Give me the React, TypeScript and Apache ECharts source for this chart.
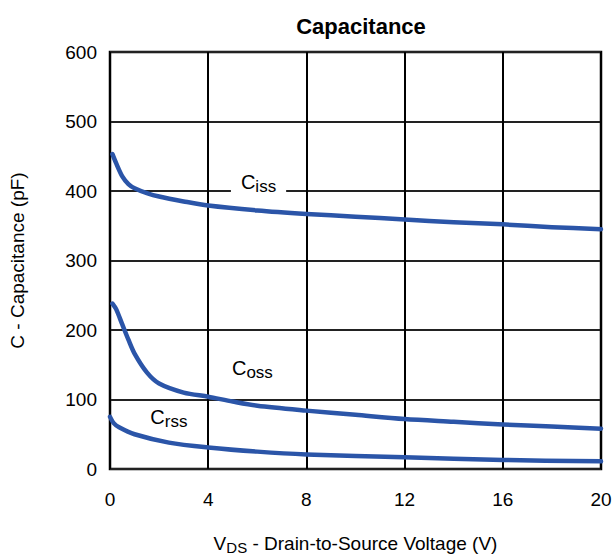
import React, { useEffect, useRef } from "react";
import * as echarts from "echarts";

const xTicks = [0, 4, 8, 12, 16, 20];
const yTicks = [0, 100, 200, 300, 400, 500, 600];

const cissX = [0.1, 0.25, 0.5, 0.75, 1, 1.5, 2, 3, 4, 6, 8, 10, 12, 14, 16, 18, 20];
const cissY = [453, 440, 421, 410, 404, 397, 392, 385, 379, 372, 367, 363, 359, 355, 352, 348, 345];

const cossX = [0.1, 0.25, 0.5, 0.75, 1, 1.5, 2, 3, 4, 5, 6, 8, 10, 12, 14, 16, 18, 20];
const cossY = [238, 230, 208, 186, 166, 139, 123, 110, 104, 97, 91, 84, 78, 72, 68, 64, 61, 58];

const crssX = [0, 0.15, 0.37, 1, 2.4, 4, 6, 8, 12, 16, 20];
const crssY = [75, 66, 60, 50, 38, 31, 25, 21, 17, 13, 11];

const labels = [
  { sub: "iss", at: [6.05, 411], bg: true },
  { sub: "oss", at: [5.8, 143], bg: false },
  { sub: "rss", at: [2.4, 72], bg: false },
];

const FONT = "'Liberation Sans', Arial, Helvetica, sans-serif";
const BLUE = "#2b55a8";

const pairs = (xs: number[], ys: number[]) => xs.map((x, i) => [x, ys[i]]);

export default function App() {
  const ref = useRef<HTMLDivElement>(null);
  useEffect(() => {
    if (!ref.current) return;
    const chart = echarts.init(ref.current, undefined, { renderer: "svg" });
    const rich = {
      c: { fontSize: 20, fontFamily: FONT, color: "#000", verticalAlign: "top" },
      s: { fontSize: 17, fontFamily: FONT, color: "#000", verticalAlign: "top", padding: [6, 0, 0, 0] },
    };
    const mk = (lab: typeof labels[number]) => ({
      coord: lab.at,
      symbol: "circle",
      symbolSize: 0,
      label: {
        show: true,
        position: "inside",
        formatter: "{c|C}{s|" + lab.sub + "}",
        rich,
        backgroundColor: lab.bg ? "#fff" : "transparent",
        padding: lab.bg ? [2, 10, 2, 10] : 0,
      },
    });
    const series = [
      { data: pairs(cissX, cissY), lab: labels[0] },
      { data: pairs(cossX, cossY), lab: labels[1] },
      { data: pairs(crssX, crssY), lab: labels[2] },
    ].map((s) => ({
      type: "line",
      data: s.data,
      smooth: 0.3,
      symbol: "none",
      lineStyle: { color: BLUE, width: 4.5, cap: "round", join: "round" },
      markPoint: { silent: true, data: [mk(s.lab)] },
    }));
    chart.setOption({
      animation: false,
      backgroundColor: "#fff",
      title: {
        text: "Capacitance",
        left: 356,
        top: 10,
        textAlign: "center",
        textStyle: { fontFamily: FONT, fontSize: 22, fontWeight: "bold", color: "#000" },
      },
      grid: {
        left: 108,
        right: 15,
        top: 52,
        bottom: 85,
        show: true,
        borderColor: "#000",
        borderWidth: 2.5,
        backgroundColor: "transparent",
      },
      xAxis: {
        type: "value",
        min: xTicks[0],
        max: xTicks[xTicks.length - 1],
        interval: 4,
        axisLine: { show: false },
        axisTick: { show: false },
        splitLine: { show: true, lineStyle: { color: "#000", width: 2 } },
        axisLabel: { margin: 21, fontSize: 19, fontFamily: FONT, color: "#000" },
        name: "{v|V}{s|DS}{t| - Drain-to-Source Voltage (V)}",
        nameLocation: "middle",
        nameGap: 65,
        nameTextStyle: {
          rich: {
            v: { fontSize: 19, fontFamily: FONT, color: "#000", verticalAlign: "top" },
            s: { fontSize: 15, fontFamily: FONT, color: "#000", verticalAlign: "top", padding: [6, 0, 0, 0] },
            t: { fontSize: 19, fontFamily: FONT, color: "#000", verticalAlign: "top" },
          },
        },
      },
      yAxis: {
        type: "value",
        min: yTicks[0],
        max: yTicks[yTicks.length - 1],
        interval: 100,
        axisLine: { show: false },
        axisTick: { show: false },
        splitLine: { show: true, lineStyle: { color: "#222", width: 2 } },
        axisLabel: { margin: 13, fontSize: 19, fontFamily: FONT, color: "#000" },
        name: "C - Capacitance (pF)",
        nameLocation: "middle",
        nameGap: 83,
        nameRotate: 90,
        nameTextStyle: { fontSize: 19, fontFamily: FONT, color: "#000" },
      },
      series,
    });
    return () => chart.dispose();
  }, []);
  return (
    <div
      ref={ref}
      style={{ position: "fixed", left: 0, top: 0, width: 616, height: 560, background: "#fff" }}
    />
  );
}
